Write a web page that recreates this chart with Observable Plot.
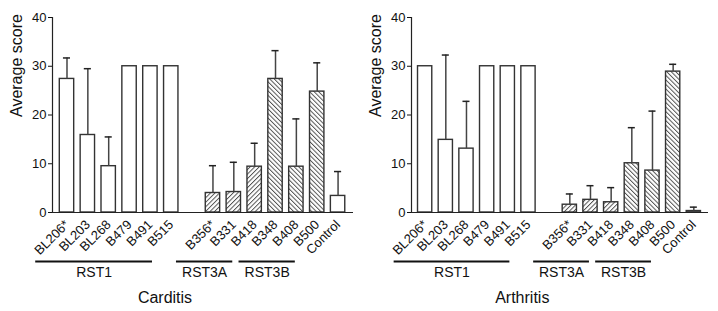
<!DOCTYPE html>
<html><head><meta charset="utf-8">
<script src="https://cdn.jsdelivr.net/npm/d3@7"></script>
<script src="https://cdn.jsdelivr.net/npm/@observablehq/plot@0.6"></script>
<style>
body{margin:0;background:#fff;font-family:"Liberation Sans",Arial,Helvetica,sans-serif}
#wrap{display:flex;width:718px;height:311px}
svg{display:block}
</style>
</head><body><div id="wrap"></div>
<script>
// ---- data ----
const strains = ["BL206*","BL203","BL268","B479","B491","B515","B356*","B331","B418","B348","B408","B500","Control"];
const strainGroup = ["RST1","RST1","RST1","RST1","RST1","RST1","RST3A","RST3A","RST3B","RST3B","RST3B","RST3B","Control"];
const fillKind = ["open","open","open","open","open","open","fwd","fwd","fwd","back","back","back","open"];
const carditisMean  = [27.4,15.9,9.5,30,30,30,4.0,4.2,9.4,27.4,9.4,24.8,3.4];
const carditisUpper = [31.7,29.5,15.5,null,null,null,9.6,10.3,14.2,33.2,19.2,30.7,8.4];
const arthritisMean  = [30,14.9,13.1,30,30,30,1.6,2.6,2.1,10.1,8.6,28.9,0.3];
const arthritisUpper = [null,32.3,22.8,null,null,null,3.8,5.5,5.1,17.4,20.8,30.4,1.1];
const yTicks = [0,10,20,30,40];
const groupNames = ["RST1","RST3A","RST3B"];
const groupFrom = [-1.5, 5.25, 8.25];
const groupTo   = [4.1, 7.95, 10.95];

// slot index on the x scale: one empty slot between RST1 and the rest
const slotOf = i => (i < 6 ? i : i + 1);

function chart({mean, upper, title, id, xDomain, marginRight}) {
  const rows = strains.map((s, i) => ({name: s, slot: slotOf(i), kind: fillKind[i], v: mean[i], up: upper[i]}));
  const nameBySlot = new Map(rows.map(r => [r.slot, r.name]));
  const groups = groupNames.map((g, i) => ({name: g, from: groupFrom[i], to: groupTo[i]}));
  const hw = 0.345, cap = 0.17;
  const barStroke = "#333";
  const svg = Plot.plot({
    width: 359, height: 311,
    marginLeft: 52, marginRight, marginTop: 17, marginBottom: 99,
    style: {fontFamily: '"Liberation Sans", Arial, sans-serif', color: "#111", background: "white"},
    x: {domain: xDomain},
    y: {domain: [0, 40]},
    marks: [
      Plot.rectY(rows.filter(d => d.kind === "open"), {x1: d => d.slot - hw, x2: d => d.slot + hw, y: "v", fill: "white", stroke: barStroke, strokeWidth: 1.4}),
      Plot.rectY(rows.filter(d => d.kind === "fwd"), {x1: d => d.slot - hw, x2: d => d.slot + hw, y: "v", fill: `url(#fwd-${id})`, stroke: barStroke, strokeWidth: 1.4}),
      Plot.rectY(rows.filter(d => d.kind === "back"), {x1: d => d.slot - hw, x2: d => d.slot + hw, y: "v", fill: `url(#back-${id})`, stroke: barStroke, strokeWidth: 1.4}),
      Plot.ruleX(rows.filter(d => d.up != null), {x: "slot", y1: "v", y2: "up", stroke: "#444", strokeWidth: 1.5}),
      Plot.ruleY(rows.filter(d => d.up != null), {x1: d => d.slot - cap, x2: d => d.slot + cap, y: "up", stroke: "#222", strokeWidth: 1.5}),
      Plot.ruleX([xDomain[0]], {y1: 0, y2: 40, stroke: "#222", strokeWidth: 1.2}),
      Plot.ruleY([0], {stroke: "#222", strokeWidth: 1.2}),
      Plot.axisY({ticks: yTicks, tickSize: 4, tickPadding: 2, fontSize: 13, label: null}),
      Plot.axisX({ticks: rows.map(r => r.slot), tickFormat: s => nameBySlot.get(s), tickRotate: -45, tickSize: 0, tickPadding: 10, fontSize: 13, label: null}),
      Plot.text(["Average score"], {frameAnchor: "left", rotate: -90, dx: -36, dy: 2, fontSize: 16}),
      Plot.ruleY(groups, {x1: "from", x2: "to", y: d => 0, dy: 49, stroke: "#111", strokeWidth: 2}),
      Plot.text(groups, {x: d => (d.from + d.to) / 2, y: d => 0, text: "name", dy: 60, fontSize: 14}),
      Plot.text([title], {x: d => 4.7, y: d => 0, text: d => d, dy: 85, fontSize: 16})
    ]
  });
  d3.select(svg).insert("defs", ":first-child").html(`
    <pattern id="fwd-${id}" width="3.2" height="3.2" patternUnits="userSpaceOnUse" patternTransform="rotate(45)">
      <rect width="3.2" height="3.2" fill="white"/><line x1="0.5" y1="0" x2="0.5" y2="3.2" stroke="#444" stroke-width="0.9"/>
    </pattern>
    <pattern id="back-${id}" width="3.2" height="3.2" patternUnits="userSpaceOnUse" patternTransform="rotate(-45)">
      <rect width="3.2" height="3.2" fill="white"/><line x1="0.5" y1="0" x2="0.5" y2="3.2" stroke="#444" stroke-width="0.9"/>
    </pattern>`);
  return svg;
}

const wrap = document.getElementById("wrap");
wrap.append(chart({mean: carditisMean, upper: carditisUpper, title: "Carditis", id: "c", xDomain: [-0.695, 13.74], marginRight: 6}));
wrap.append(chart({mean: arthritisMean, upper: arthritisUpper, title: "Arthritis", id: "a", xDomain: [-0.66, 13.71], marginRight: 10}));
</script>
</body></html>
